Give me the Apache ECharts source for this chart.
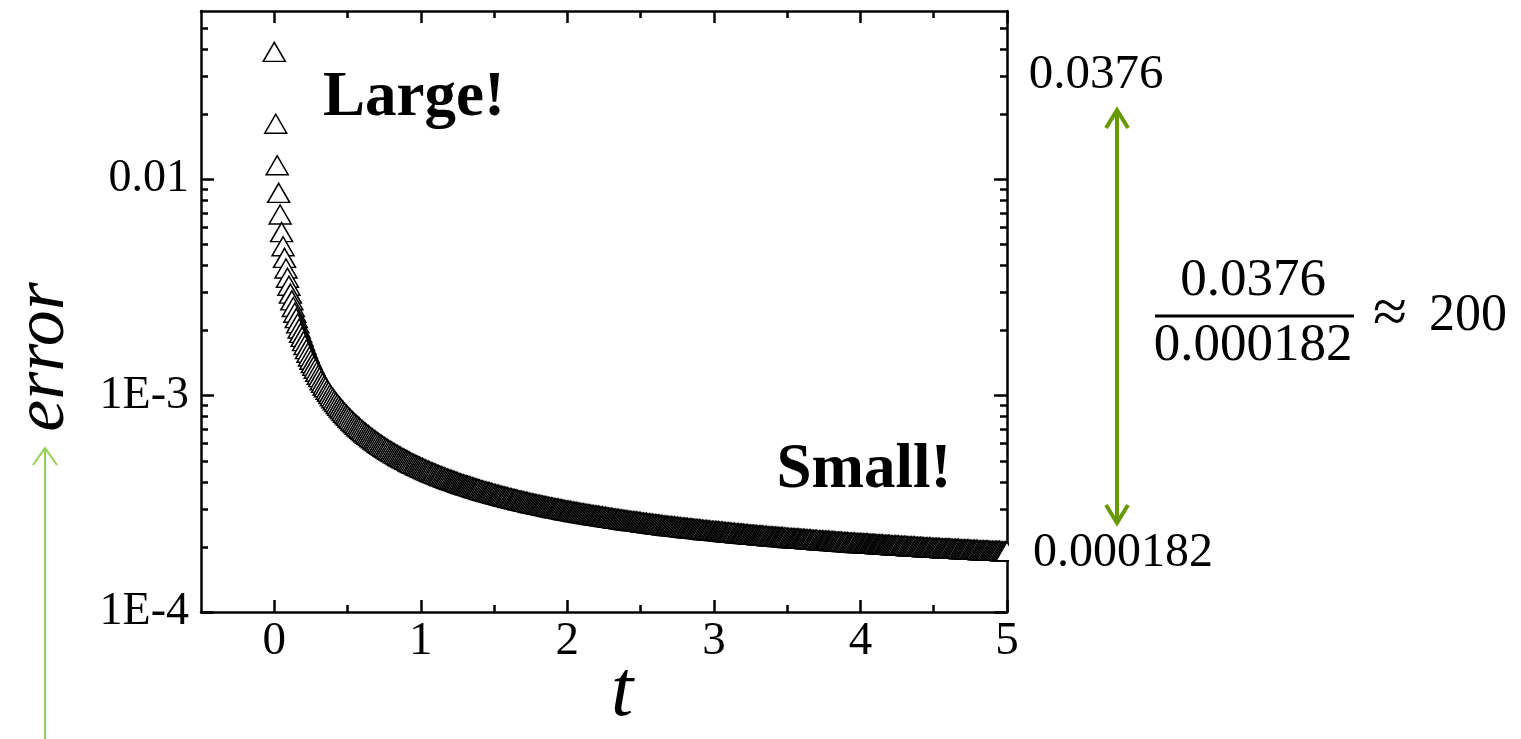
<!DOCTYPE html>
<html><head><meta charset="utf-8">
<script src="https://cdn.jsdelivr.net/npm/echarts@6/dist/echarts.min.js"></script>
<style>html,body{margin:0;padding:0;background:#fff}#chart{width:1521px;height:739px}</style>
</head><body><div id="chart"></div>
<script>
// sampling of t (one marker per 0.01)
const tStart = 0;
const tStep = 0.01;
// error, t = 0.00 ... 5.00
const errorValues = [
0.0376,0.0175,0.01125,0.00839,0.00666,0.00552,0.00475,0.00420,0.00375,0.00340,
0.00312,0.00287,0.00267,0.00249,0.00234,0.00221,0.00209,0.00198,0.00189,0.00181,
0.00173,0.00166,0.00159,0.00153,0.00147,0.00142,0.00137,0.00133,0.00129,0.00125,
0.00121,0.00118,0.00114,0.00111,0.00108,0.00106,0.00103,0.00101,0.000985,0.000963,
0.000943,0.000923,0.000904,0.000886,0.000869,0.000853,0.000837,0.000822,0.000808,0.000794,
0.000781,0.000768,0.000756,0.000744,0.000732,0.000721,0.000711,0.000700,0.000691,0.000681,
0.000672,0.000663,0.000654,0.000646,0.000638,0.000630,0.000622,0.000615,0.000607,0.000600,
0.000594,0.000587,0.000580,0.000574,0.000568,0.000562,0.000556,0.000551,0.000545,0.000540,
0.000535,0.000530,0.000525,0.000520,0.000515,0.000510,0.000506,0.000501,0.000497,0.000493,
0.000489,0.000485,0.000481,0.000477,0.000473,0.000469,0.000466,0.000462,0.000459,0.000455,
0.000452,0.000449,0.000446,0.000442,0.000439,0.000436,0.000433,0.000430,0.000427,0.000425,
0.000422,0.000419,0.000416,0.000414,0.000411,0.000409,0.000406,0.000404,0.000401,0.000399,
0.000397,0.000394,0.000392,0.000390,0.000388,0.000386,0.000383,0.000381,0.000379,0.000377,
0.000375,0.000373,0.000372,0.000370,0.000368,0.000366,0.000364,0.000362,0.000360,0.000359,
0.000357,0.000355,0.000354,0.000352,0.000350,0.000349,0.000347,0.000346,0.000344,0.000343,
0.000341,0.000340,0.000338,0.000337,0.000335,0.000334,0.000333,0.000331,0.000330,0.000329,
0.000327,0.000326,0.000325,0.000323,0.000322,0.000321,0.000320,0.000318,0.000317,0.000316,
0.000315,0.000314,0.000313,0.000312,0.000310,0.000309,0.000308,0.000307,0.000306,0.000305,
0.000304,0.000303,0.000302,0.000301,0.000300,0.000299,0.000298,0.000297,0.000296,0.000295,
0.000294,0.000293,0.000292,0.000292,0.000291,0.000290,0.000289,0.000288,0.000287,0.000286,
0.000285,0.000285,0.000284,0.000283,0.000282,0.000281,0.000281,0.000280,0.000279,0.000278,
0.000278,0.000277,0.000276,0.000275,0.000275,0.000274,0.000273,0.000272,0.000272,0.000271,
0.000270,0.000270,0.000269,0.000268,0.000268,0.000267,0.000266,0.000266,0.000265,0.000264,
0.000264,0.000263,0.000262,0.000262,0.000261,0.000261,0.000260,0.000259,0.000259,0.000258,
0.000258,0.000257,0.000256,0.000256,0.000255,0.000255,0.000254,0.000254,0.000253,0.000253,
0.000252,0.000251,0.000251,0.000250,0.000250,0.000249,0.000249,0.000248,0.000248,0.000247,
0.000247,0.000246,0.000246,0.000245,0.000245,0.000244,0.000244,0.000243,0.000243,0.000242,
0.000242,0.000242,0.000241,0.000241,0.000240,0.000240,0.000239,0.000239,0.000238,0.000238,
0.000238,0.000237,0.000237,0.000236,0.000236,0.000236,0.000235,0.000235,0.000234,0.000234,
0.000234,0.000233,0.000233,0.000232,0.000232,0.000232,0.000231,0.000231,0.000230,0.000230,
0.000230,0.000229,0.000229,0.000229,0.000228,0.000228,0.000228,0.000227,0.000227,0.000226,
0.000226,0.000226,0.000225,0.000225,0.000225,0.000224,0.000224,0.000224,0.000223,0.000223,
0.000223,0.000222,0.000222,0.000222,0.000221,0.000221,0.000221,0.000220,0.000220,0.000220,
0.000219,0.000219,0.000219,0.000219,0.000218,0.000218,0.000218,0.000217,0.000217,0.000217,
0.000217,0.000216,0.000216,0.000216,0.000215,0.000215,0.000215,0.000215,0.000214,0.000214,
0.000214,0.000213,0.000213,0.000213,0.000213,0.000212,0.000212,0.000212,0.000212,0.000211,
0.000211,0.000211,0.000211,0.000210,0.000210,0.000210,0.000210,0.000209,0.000209,0.000209,
0.000209,0.000208,0.000208,0.000208,0.000208,0.000207,0.000207,0.000207,0.000207,0.000206,
0.000206,0.000206,0.000206,0.000205,0.000205,0.000205,0.000205,0.000205,0.000204,0.000204,
0.000204,0.000204,0.000203,0.000203,0.000203,0.000203,0.000203,0.000202,0.000202,0.000202,
0.000202,0.000202,0.000201,0.000201,0.000201,0.000201,0.000200,0.000200,0.000200,0.000200,
0.000200,0.000199,0.000199,0.000199,0.000199,0.000199,0.000198,0.000198,0.000198,0.000198,
0.000198,0.000197,0.000197,0.000197,0.000197,0.000197,0.000197,0.000196,0.000196,0.000196,
0.000196,0.000196,0.000195,0.000195,0.000195,0.000195,0.000195,0.000195,0.000194,0.000194,
0.000194,0.000194,0.000194,0.000193,0.000193,0.000193,0.000193,0.000193,0.000193,0.000192,
0.000192,0.000192,0.000192,0.000192,0.000192,0.000191,0.000191,0.000191,0.000191,0.000191,
0.000191,0.000191,0.000190,0.000190,0.000190,0.000190,0.000190,0.000190,0.000189,0.000189,
0.000189,0.000189,0.000189,0.000189,0.000189,0.000188,0.000188,0.000188,0.000188,0.000188,
0.000188,0.000187,0.000187,0.000187,0.000187,0.000187,0.000187,0.000187,0.000186,0.000186,
0.000186,0.000186,0.000186,0.000186,0.000186,0.000186,0.000185,0.000185,0.000185,0.000185,
0.000185
];
const xRange = [-0.5, 5];
const xMajorTicks = [0, 1, 2, 3, 4, 5];
const xMinorTicks = [0.5, 1.5, 2.5, 3.5, 4.5];
const yRange = [0.0001, 0.06];
const yMajorTicks = [0.0001, 0.001, 0.01];
const yMajorLabels = ['1E-4', '1E-3', '0.01'];
const yMinorTicks = [0.0002,0.0003,0.0004,0.0005,0.0006,0.0007,0.0008,0.0009,
                     0.002,0.003,0.004,0.005,0.006,0.007,0.008,0.009,
                     0.02,0.03,0.04,0.05];
const xTitle = 't';
const yTitle = 'error';
const topValue = '0.0376';
const bottomValue = '0.000182';
const approxSign = '≈';
const ratioValue = '200';

const FONT = "'Liberation Serif', 'Times New Roman', serif";
const BLACK = '#000';
const AXW = 2.5;

function xAxisDef(position, ticks, len, showLine, showLabel) {
  return {
    type: 'value', position: position, min: xRange[0], max: xRange[1],
    axisLine: { show: showLine, onZero: false, lineStyle: { color: BLACK, width: AXW } },
    axisTick: { show: true, inside: true, length: len, customValues: ticks, lineStyle: { color: BLACK, width: AXW } },
    axisLabel: { show: showLabel, customValues: xMajorTicks, margin: 6, color: BLACK,
                 fontFamily: FONT, fontSize: 47 },
    splitLine: { show: false }, minorTick: { show: false }
  };
}
function yAxisDef(position, ticks, len, showLine, showLabel) {
  return {
    type: 'log', logBase: 10, position: position, min: yRange[0], max: yRange[1],
    axisLine: { show: showLine, onZero: false, lineStyle: { color: BLACK, width: AXW } },
    axisTick: { show: true, inside: true, length: len, customValues: ticks, lineStyle: { color: BLACK, width: AXW } },
    axisLabel: { show: showLabel, customValues: yMajorTicks, margin: 12, color: BLACK,
                 fontFamily: FONT, fontSize: 46,
                 formatter: function (v) {
                   const i = yMajorTicks.findIndex(m => Math.abs(Math.log10(v / m)) < 0.01);
                   return i >= 0 ? yMajorLabels[i] : '';
                 } },
    splitLine: { show: false }, minorTick: { show: false }
  };
}
function txt(x, y, text, font, align, extra) {
  return Object.assign({ type: 'text', z: 60, x: x, y: y,
    style: { text: text, font: font, fill: BLACK, align: align, verticalAlign: 'middle',
             textAlign: align, textVerticalAlign: 'middle' } }, extra || {});
}

const seriesData = errorValues.map((e, i) => [+(tStart + i * tStep).toFixed(2), e]);

const chart = echarts.init(document.getElementById('chart'), null, { renderer: 'canvas' });
chart.setOption({
  animation: false,
  backgroundColor: '#fff',
  grid: { left: 201, top: 11, width: 806, height: 601, containLabel: false },
  xAxis: [
    xAxisDef('bottom', xMajorTicks, 12, true, true),
    xAxisDef('bottom', xMinorTicks, 7, false, false),
    xAxisDef('top', xMajorTicks, 12, true, false),
    xAxisDef('top', xMinorTicks, 7, false, false)
  ],
  yAxis: [
    yAxisDef('left', yMajorTicks, 13, true, true),
    yAxisDef('left', yMinorTicks, 7, false, false),
    yAxisDef('right', yMajorTicks, 13, true, false),
    yAxisDef('right', yMinorTicks, 7, false, false)
  ],
  series: [{
    type: 'scatter', xAxisIndex: 0, yAxisIndex: 0,
    symbol: 'triangle', symbolSize: [22, 19], symbolOffset: [0, -3],
    itemStyle: { color: '#fff', borderColor: BLACK, borderWidth: 1.5, opacity: 1 },
    emphasis: { disabled: true },
    data: seriesData, z: 2
  }],
  graphic: [
    // hide marker parts beyond the right frame
    { type: 'rect', z: 50, shape: { x: 1009, y: 528, width: 20, height: 44 }, style: { fill: '#fff' } },
    txt(414, 99, 'Large!', "bold 63px " + FONT, 'center'),
    txt(864, 471, 'Small!', "bold 63px " + FONT, 'center'),
    txt(622, 694, xTitle, "italic 80px " + FONT, 'center'),
    txt(44, 357, yTitle, "italic 72px " + FONT, 'center', { rotation: Math.PI / 2 }),
    txt(1096, 75, topValue, "49px " + FONT, 'center'),
    txt(1123, 553, bottomValue, "48px " + FONT, 'center'),
    txt(1253, 281, topValue, "53px " + FONT, 'center'),
    txt(1253, 346, bottomValue, "53px " + FONT, 'center'),
    { type: 'line', z: 60, shape: { x1: 1155, y1: 316, x2: 1354, y2: 316 }, style: { stroke: BLACK, lineWidth: 3 } },
    txt(1390, 316, approxSign, "62px " + FONT, 'center'),
    txt(1429, 316, ratioValue, "52px " + FONT, 'left'),
    // green double arrow
    { type: 'line', z: 60, shape: { x1: 1117, y1: 110, x2: 1117, y2: 523 }, style: { stroke: '#669a00', lineWidth: 4 } },
    { type: 'polyline', z: 60, shape: { points: [[1106, 128], [1117, 110], [1128, 128]] }, style: { stroke: '#669a00', lineWidth: 4, fill: null } },
    { type: 'polyline', z: 60, shape: { points: [[1106, 505], [1117, 523], [1128, 505]] }, style: { stroke: '#669a00', lineWidth: 4, fill: null } },
    // light green arrow at left
    { type: 'line', z: 60, shape: { x1: 45, y1: 448, x2: 45, y2: 739 }, style: { stroke: '#92d050', lineWidth: 2 } },
    { type: 'polyline', z: 60, shape: { points: [[33, 465], [45, 448], [57, 465]] }, style: { stroke: '#92d050', lineWidth: 2, fill: null } }
  ]
});
</script></body></html>
